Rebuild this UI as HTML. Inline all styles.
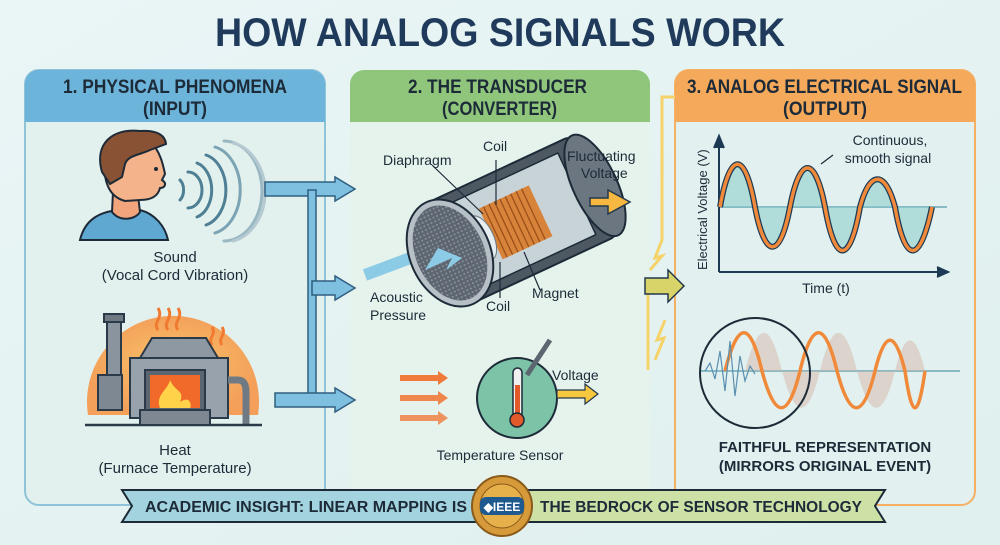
<!DOCTYPE html>
<html><head><meta charset="utf-8"><style>
html,body{margin:0;padding:0;background:#e9f4f4;}
svg{display:block;font-family:"Liberation Sans",sans-serif;}
</style></head><body>
<svg width="1000" height="545" viewBox="0 0 1000 545" xmlns="http://www.w3.org/2000/svg">
<defs>
<linearGradient id="bg" x1="0" y1="0" x2="1" y2="1"><stop offset="0" stop-color="#eaf5f6"/><stop offset="1" stop-color="#dff0ee"/></linearGradient>
<radialGradient id="sun" cx="0.5" cy="0.5" r="0.5"><stop offset="0" stop-color="#f7c56a"/><stop offset="1" stop-color="#f4a05a"/></radialGradient>
<pattern id="mesh" width="4" height="4" patternUnits="userSpaceOnUse"><rect width="4" height="4" fill="#5d6670"/><circle cx="2" cy="2" r="1" fill="#8a939c"/></pattern>
</defs>
<rect width="1000" height="545" fill="url(#bg)"/>
<text x="215" y="46" textLength="570" lengthAdjust="spacingAndGlyphs" font-size="40" font-weight="bold" fill="#1f3a5a">HOW ANALOG SIGNALS WORK</text>

<!-- Panel 1 -->
<rect x="25" y="70" width="300" height="435" rx="14" fill="#e2f1ee" stroke="#8fc3d8" stroke-width="2"/>
<path d="M25 122 V84 a14 14 0 0 1 14 -14 H311 a14 14 0 0 1 14 14 V122 Z" fill="#6cb4da"/>
<text x="63" y="93" textLength="224" lengthAdjust="spacingAndGlyphs" font-size="19" font-weight="bold" fill="#1d2a38">1. PHYSICAL PHENOMENA</text>
<text x="143" y="115" textLength="64" lengthAdjust="spacingAndGlyphs" font-size="19" font-weight="bold" fill="#1d2a38">(INPUT)</text>

<!-- Panel 2 -->
<rect x="350" y="70" width="300" height="430" rx="14" fill="#e6f3ec"/>
<path d="M350 122 V84 a14 14 0 0 1 14 -14 H636 a14 14 0 0 1 14 14 V122 Z" fill="#8fc67c"/>
<text x="408" y="93" textLength="179" lengthAdjust="spacingAndGlyphs" font-size="19" font-weight="bold" fill="#1d2a38">2. THE TRANSDUCER</text>
<text x="442" y="115" textLength="115" lengthAdjust="spacingAndGlyphs" font-size="19" font-weight="bold" fill="#1d2a38">(CONVERTER)</text>

<!-- Panel 3 -->
<rect x="675" y="70" width="300" height="435" rx="14" fill="#e2f1f0" stroke="#f5b066" stroke-width="2"/>
<path d="M675 122 V84 a14 14 0 0 1 14 -14 H961 a14 14 0 0 1 14 14 V122 Z" fill="#f5a95a"/>
<text x="687" y="93" textLength="275" lengthAdjust="spacingAndGlyphs" font-size="19" font-weight="bold" fill="#1d2a38">3. ANALOG ELECTRICAL SIGNAL</text>
<text x="783" y="115" textLength="84" lengthAdjust="spacingAndGlyphs" font-size="19" font-weight="bold" fill="#1d2a38">(OUTPUT)</text>

<!-- yellow wire -->
<path d="M675 97 H662 V240 L655 258 L662 256 L650 270" fill="none" stroke="#f5d36a" stroke-width="3"/>
<path d="M648 290 V370 M665 320 L657 340 L664 338 L655 360" fill="none" stroke="#f5d36a" stroke-width="3"/>
<path d="M645 278 H668 V270 L684 286 L668 302 V294 H645 Z" fill="#d9d46a" stroke="#23384c" stroke-width="1.5"/>

<!-- person -->
<g transform="translate(0 14)">
<path d="M80 226 C85 205 100 198 118 196 L140 196 C155 200 165 212 168 226 Z" fill="#5ea8d1" stroke="#1d2a38" stroke-width="2"/>
<path d="M113 178 L112 198 C120 208 135 206 140 198 L138 181 Z" fill="#f2a47c" stroke="#1d2a38" stroke-width="2"/>
<path d="M104 148 C102 125 125 120 150 127 C160 137 163 150 165 160 L162 166 C168 170 164 174 160 174 C158 182 152 186 140 186 L125 187 C110 183 104 170 104 148 Z" fill="#f4b38a" stroke="#1d2a38" stroke-width="2"/>
<path d="M102 158 C94 130 112 114 140 117 C155 116 165 120 166 130 L150 136 C140 141 128 141 125 150 L122 163 L110 170 Z" fill="#8a5234" stroke="#1d2a38" stroke-width="2"/>
<circle cx="156" cy="155" r="2" fill="#1d2a38"/>
</g>
<g fill="none" stroke="#4f7f94" stroke-width="3" stroke-linecap="round">
<path d="M180 180 a8 12 0 0 1 0 20"/>
<path d="M188 172 a14 18 0 0 1 0 36"/>
<path d="M197 163 a20 28 0 0 1 0 54"/>
<path d="M206 155 a26 36 0 0 1 0 70"/>
<path d="M215 147 a32 44 0 0 1 0 86" stroke="#7ba3b3"/>
<path d="M224 141 a38 50 0 0 1 0 100" stroke="#9ab8c4"/>
<path d="M233 143 a40 50 0 0 1 0 98" stroke="#b5c9d0"/>
</g>
<text x="175" y="262" text-anchor="middle" font-size="15" fill="#1d2a38">Sound</text>
<text x="175" y="280" text-anchor="middle" font-size="15" fill="#1d2a38">(Vocal Cord Vibration)</text>

<!-- furnace -->
<path d="M88 415 A86 86 0 1 1 258 415 Z" fill="url(#sun)"/>
<g stroke="#f07a30" stroke-width="3" fill="none">
<path d="M158 330 c-6 -8 6 -12 0 -22 M168 330 c-6 -8 6 -12 0 -22 M178 330 c-6 -8 6 -12 0 -22"/>
<path d="M212 345 c-5 -7 5 -10 0 -18 M222 345 c-5 -7 5 -10 0 -18"/>
</g>
<rect x="107" y="320" width="14" height="85" fill="#8a949e" stroke="#2b3a48" stroke-width="2"/>
<rect x="104" y="314" width="20" height="8" fill="#6f7a84" stroke="#2b3a48" stroke-width="2"/>
<rect x="98" y="375" width="24" height="35" fill="#7d8892" stroke="#2b3a48" stroke-width="2"/>
<path d="M140 358 L152 338 H206 L218 358 Z" fill="#8e98a2" stroke="#2b3a48" stroke-width="2"/>
<rect x="130" y="358" width="98" height="60" fill="#98a2ac" stroke="#2b3a48" stroke-width="2"/>
<rect x="145" y="370" width="60" height="42" fill="#5b6670" stroke="#2b3a48" stroke-width="2"/>
<rect x="150" y="375" width="50" height="33" fill="#f26a2a"/>
<path d="M160 408 C155 395 168 390 170 380 C175 392 185 390 180 402 C190 395 192 405 190 408 Z" fill="#ffd24a"/>
<path d="M228 380 H238 C244 380 246 385 246 392 V425" fill="none" stroke="#6f7a84" stroke-width="7"/>
<line x1="85" y1="425" x2="262" y2="425" stroke="#2b3a48" stroke-width="2.5"/>
<rect x="140" y="410" width="70" height="15" fill="#7d8892" stroke="#2b3a48" stroke-width="2"/>
<text x="175" y="455" text-anchor="middle" font-size="15" fill="#1d2a38">Heat</text>
<text x="175" y="473" text-anchor="middle" font-size="15" fill="#1d2a38">(Furnace Temperature)</text>

<!-- blue arrows -->
<g fill="#7fc0e0" stroke="#2f5f80" stroke-width="1.5">
<path d="M265 182 H335 V177 L355 189 L335 201 V196 H265 Z"/>
<path d="M308 190 H316 V400 H308 Z"/>
<path d="M312 281 H335 V276 L355 288 L335 300 V295 H312 Z"/>
<path d="M275 393 H335 V388 L355 400 L335 412 V407 H275 Z"/>
</g>

<!-- microphone -->
<path d="M365 275 L445 245" stroke="#8ccbe6" stroke-width="12"/>
<g transform="rotate(-25 450 253)">
<rect x="450" y="198" width="160" height="110" rx="8" fill="#4d5862" stroke="#1d2a38" stroke-width="2"/>
<rect x="470" y="208" width="120" height="90" fill="#c8d3d8" stroke="#1d2a38" stroke-width="1.5"/>
<rect x="495" y="225" width="55" height="56" fill="#d8833a"/>
<g stroke="#9b4f1a" stroke-width="1.3"><path d="M500 225v56M506 225v56M512 225v56M518 225v56M524 225v56M530 225v56M536 225v56M542 225v56"/></g>
<ellipse cx="485" cy="253" rx="12" ry="24" fill="#e7eef1" stroke="#6a7780"/>
<ellipse cx="610" cy="253" rx="22" ry="55" fill="#6b7680" stroke="#1d2a38" stroke-width="2"/>
<ellipse cx="450" cy="253" rx="40" ry="56" fill="#b7c0c6" stroke="#1d2a38" stroke-width="2"/>
<ellipse cx="450" cy="253" rx="34" ry="50" fill="url(#mesh)"/>
</g>
<path d="M425 270 L452 258 L446 270 L462 258 L438 248 Z" fill="#8ccbe6"/>
<path d="M590 198 H608 V190 L630 202 L608 214 V206 H590 Z" fill="#f6b840" stroke="#23384c" stroke-width="1.5"/>
<g stroke="#1d2a38" stroke-width="1.2"><line x1="432" y1="165" x2="483" y2="214"/><line x1="496" y1="160" x2="496" y2="205"/><line x1="500" y1="262" x2="500" y2="298"/><line x1="524" y1="252" x2="540" y2="290"/></g>
<g font-size="14" fill="#1d2a38">
<text x="383" y="165">Diaphragm</text>
<text x="483" y="151">Coil</text>
<text x="567" y="161">Fluctuating</text>
<text x="581" y="178">Voltage</text>
<text x="486" y="311">Coil</text>
<text x="532" y="298">Magnet</text>
<text x="370" y="302">Acoustic</text>
<text x="370" y="320">Pressure</text>
<text x="500" y="460" text-anchor="middle">Temperature Sensor</text>
<text x="552" y="380">Voltage</text>
</g>
<!-- temp sensor -->
<g fill="#f07a3a"><path d="M400 375 H438 V371 L448 378 L438 385 V381 H400 Z"/><path d="M400 395 H438 V391 L448 398 L438 405 V401 H400 Z" opacity=".9"/><path d="M400 415 H438 V411 L448 418 L438 425 V421 H400 Z" opacity=".8"/></g>
<circle cx="517" cy="398" r="40" fill="#7cc3a8" stroke="#1d2a38" stroke-width="2"/>
<rect x="513" y="368" width="9" height="50" rx="4.5" fill="#f0f0f0" stroke="#1d2a38" stroke-width="1.5"/>
<rect x="515" y="385" width="5" height="30" fill="#e25a2a"/><circle cx="517" cy="420" r="7" fill="#e25a2a" stroke="#1d2a38" stroke-width="1.5"/>
<line x1="527" y1="375" x2="550" y2="340" stroke="#5b6670" stroke-width="5"/>
<path d="M557 390 H585 V384 L598 394 L585 404 V398 H557 Z" fill="#f6c840" stroke="#23384c" stroke-width="1.2"/>

<!-- graph -->
<g stroke="#1d3a55" stroke-width="2" fill="none">
<path d="M719 272 V140"/><path d="M714 148 L719 136 L724 148" fill="#1d3a55"/>
<path d="M719 272 H945"/><path d="M937 267 L948 272 L937 277" fill="#1d3a55"/>
</g>
<line x1="720" y1="207" x2="947" y2="207" stroke="#6aa7b8" stroke-width="1.5"/>
<path d="M720 207 C730 150 745 150 755 207 C765 260 780 260 790 207 C800 155 815 155 825 207 C835 265 850 265 860 207 C870 170 885 170 895 207 C905 265 920 265 932 207 Z" fill="#8fcfcc" opacity=".6"/>
<path d="M720 207 C730 150 745 150 755 207 C765 260 780 260 790 207 C800 155 815 155 825 207 C835 265 850 265 860 207 C870 170 885 170 895 207 C905 265 920 265 932 207" fill="none" stroke="#1d3a55" stroke-width="6"/>
<path d="M720 207 C730 150 745 150 755 207 C765 260 780 260 790 207 C800 155 815 155 825 207 C835 265 850 265 860 207 C870 170 885 170 895 207 C905 265 920 265 932 207" fill="none" stroke="#f08a3a" stroke-width="3.5"/>
<line x1="821" y1="164" x2="833" y2="155" stroke="#1d2a38" stroke-width="1.2"/>
<g font-size="14" fill="#1d2a38">
<text x="890" y="145" text-anchor="middle">Continuous,</text>
<text x="888" y="163" text-anchor="middle">smooth signal</text>
<text x="826" y="293" text-anchor="middle">Time (t)</text>
<text transform="translate(707 270) rotate(-90)" font-size="13">Electrical Voltage (V)</text>
</g>
<!-- lower -->
<line x1="700" y1="371" x2="960" y2="371" stroke="#6aa7b8" stroke-width="1.5"/>
<path d="M745 371 C758 320 770 320 782 371 C795 420 808 420 820 371 C832 320 845 320 857 371 C870 420 883 420 895 371 C905 330 915 330 925 371" fill="#d6b8a8" opacity=".5"/>
<path d="M725 371 C738 320 750 320 762 371 C775 420 788 420 800 371 C812 320 825 320 837 371 C850 420 863 420 875 371 C885 330 895 330 905 371 C912 420 918 420 925 371" fill="none" stroke="#f08a3a" stroke-width="3.5"/>
<path d="M705 371 l5 -8 l5 16 l5 -28 l5 40 l5 -50 l5 55 l5 -40 l5 25 l5 -15 l5 8" fill="none" stroke="#5a8fb0" stroke-width="1.2"/>
<circle cx="755" cy="373" r="55" fill="none" stroke="#1d2a38" stroke-width="2"/>
<text x="825" y="452" text-anchor="middle" font-size="15" font-weight="bold" fill="#1d2a38">FAITHFUL REPRESENTATION</text>
<text x="825" y="471" text-anchor="middle" font-size="15" font-weight="bold" fill="#1d2a38">(MIRRORS ORIGINAL EVENT)</text>

<!-- banner -->
<path d="M122 490 H500 V522 H122 L132 506 Z" fill="#a2d3de" stroke="#1d2a38" stroke-width="2"/>
<path d="M500 490 H885 L875 506 L885 522 H500 Z" fill="#cde0a6" stroke="#1d2a38" stroke-width="2"/>
<text x="145" y="512" textLength="322" lengthAdjust="spacingAndGlyphs" font-size="16" font-weight="bold" fill="#1d2a38">ACADEMIC INSIGHT: LINEAR MAPPING IS</text>
<text x="540" y="512" textLength="322" lengthAdjust="spacingAndGlyphs" font-size="16" font-weight="bold" fill="#1d2a38">THE BEDROCK OF SENSOR TECHNOLOGY</text>
<circle cx="502" cy="506" r="30" fill="#d69a3a" stroke="#8a5a1a" stroke-width="2"/>
<circle cx="502" cy="506" r="22" fill="#e6b04a" stroke="#8a5a1a" stroke-width="1"/>
<rect x="480" y="497" width="44" height="18" rx="6" fill="#1e5a90"/>
<text x="502" y="511" text-anchor="middle" font-size="12" font-weight="bold" fill="#fff">◆IEEE</text>
</svg>
</body></html>
